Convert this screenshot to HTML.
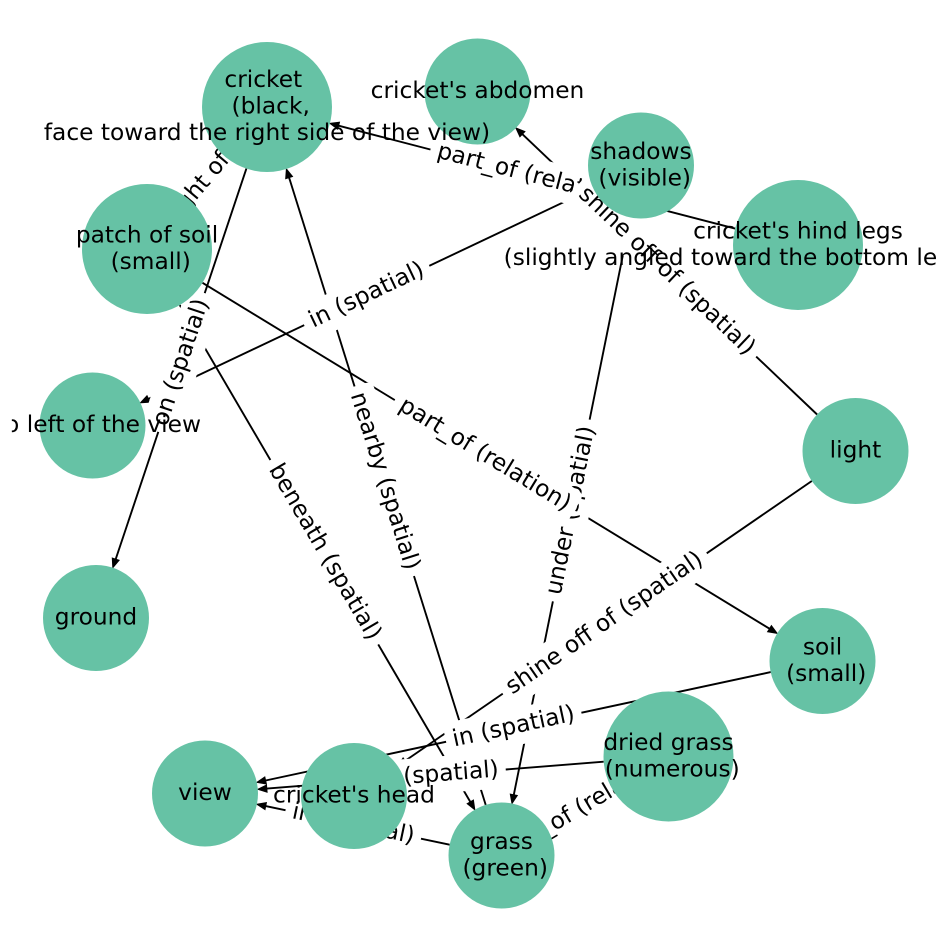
<!DOCTYPE html>
<html><head><meta charset="utf-8"><style>
html,body{margin:0;padding:0;background:#fff;}
svg{display:block;}
text{font-family:"DejaVu Sans","Liberation Sans",sans-serif;font-size:23.3px;fill:#000;white-space:pre;}
</style></head><body>
<svg width="948" height="948" viewBox="0 0 948 948" xmlns="http://www.w3.org/2000/svg">
<defs>
<clipPath id="ax"><rect x="11.85" y="11.85" width="924.3" height="924.3"/></clipPath>
</defs>
<rect width="948" height="948" fill="#fff"/>
<g stroke="#000" stroke-width="1.9" fill="none">
<path d="M735.1,228.6 L338.6,125.7"/>
<path d="M817.1,414.5 L522.4,134.2"/>
<path d="M246.4,168.6 L115.7,559.2"/>
<path d="M593.1,188.2 L148.5,398.9"/>
<path d="M485.7,804.9 L289.1,177.6"/>
<path d="M179.8,305.1 L470.3,801.9"/>
<path d="M202.5,282.8 L769.5,628.7"/>
<path d="M630.5,217.4 L513.8,794.8"/>
<path d="M811.8,481 L405.1,760.9"/>
<path d="M770.7,672.1 L265.6,780.5"/>
<path d="M603.7,761.7 L266.8,788.6"/>
<path d="M449.6,844.7 L265.7,806.1"/>
</g>
<g fill="#000" stroke="#000" stroke-width="1" stroke-linejoin="miter">
<polygon points="329.9,123.4 339.5,122.2 337.7,129.2"/>
<polygon points="515.9,128 524.9,131.6 519.9,136.8"/>
<polygon points="112.8,567.7 112.3,558.1 119.1,560.3"/>
<polygon points="140.4,402.8 147,395.7 150,402.2"/>
<polygon points="286.4,169 292.5,176.5 285.7,178.7"/>
<polygon points="474.8,809.7 467.2,803.7 473.4,800.1"/>
<polygon points="777.2,633.4 767.6,631.8 771.4,625.6"/>
<polygon points="512,803.6 510.3,794.1 517.3,795.5"/>
<polygon points="397.7,766 403.1,757.9 407.1,763.9"/>
<polygon points="256.8,782.4 264.8,777 266.4,784"/>
<polygon points="257.8,789.3 266.5,785 267.1,792.2"/>
<polygon points="256.9,804.3 266.4,802.6 265,809.6"/>
</g>

<!-- edge labels -->
<g clip-path="url(#ax)">
<g transform="translate(181.5,362.5) rotate(-71.5)"><rect x="-73.1" y="-18.4" width="146.2" height="36.8" rx="7" fill="#fff"/><text x="0" y="6.3" text-anchor="middle">on (spatial)</text></g>
<g transform="translate(207,178) rotate(-49.8)"><rect x="-139.1" y="-18.4" width="278.2" height="36.8" rx="7" fill="#fff"/><text x="0" y="6.3" text-anchor="middle">to the right of (spatial)</text></g>
<g transform="translate(366.75,295.5) rotate(-25.36)"><rect x="-69.2" y="-18.4" width="138.4" height="36.8" rx="7" fill="#fff"/><text x="0" y="6.3" text-anchor="middle">in (spatial)</text></g>
<g transform="translate(384.25,481.25) rotate(72.6)"><rect x="-99.35" y="-18.4" width="198.7" height="36.8" rx="7" fill="#fff"/><text x="0" y="6.3" text-anchor="middle">nearby (spatial)</text></g>
<g transform="translate(324.25,552.25) rotate(59.69)"><rect x="-106.8" y="-18.4" width="213.6" height="36.8" rx="7" fill="#fff"/><text x="0" y="6.3" text-anchor="middle">beneath (spatial)</text></g>
<g transform="translate(571.25,510.5) rotate(-78.57)"><rect x="-92.7" y="-18.4" width="185.4" height="36.8" rx="7" fill="#fff"/><text x="0" y="6.3" text-anchor="middle">under (spatial)</text></g>
<g transform="translate(484.75,455) rotate(31.37)"><rect x="-105.4" y="-18.4" width="210.8" height="36.8" rx="7" fill="#fff"/><text x="0" y="6.3" text-anchor="middle">part_of (relation)</text></g>
<g transform="translate(604.75,623.5) rotate(-34.53)"><rect x="-123.8" y="-18.4" width="247.6" height="36.8" rx="7" fill="#fff"/><text x="0" y="6.3" text-anchor="middle">shine off of (spatial)</text></g>
<g transform="translate(513.75,727.25) rotate(-12.11)"><rect x="-69.2" y="-18.4" width="138.4" height="36.8" rx="7" fill="#fff"/><text x="0" y="6.3" text-anchor="middle">in (spatial)</text></g>
<g transform="translate(436.75,775) rotate(-4.56)"><rect x="-69.2" y="-18.4" width="138.4" height="36.8" rx="7" fill="#fff"/><text x="0" y="6.3" text-anchor="middle">in (spatial)</text></g>
<g transform="translate(353.25,824.5) rotate(11.81)"><rect x="-69.2" y="-18.4" width="138.4" height="36.8" rx="7" fill="#fff"/><text x="0" y="6.3" text-anchor="middle">in (spatial)</text></g>
<g transform="translate(585,806) rotate(-30.66)"><rect x="-105.4" y="-18.4" width="210.8" height="36.8" rx="7" fill="#fff"/><text x="0" y="6.3" text-anchor="middle">part_of (relation)</text></g>
<g transform="translate(532.5,176) rotate(14.57)"><rect x="-105.4" y="-18.4" width="210.8" height="36.8" rx="7" fill="#fff"/><text x="0" y="6.3" text-anchor="middle">part_of (relation)</text></g>
<g transform="translate(666.5,271.25) rotate(43.56)"><rect x="-123.8" y="-18.4" width="247.6" height="36.8" rx="7" fill="#fff"/><text x="0" y="6.3" text-anchor="middle">shine off of (spatial)</text></g>
</g>

<!-- nodes -->
<g fill="#66c2a5">
<circle cx="267" cy="107" r="65"/>
<circle cx="477.5" cy="91.5" r="53"/>
<circle cx="641" cy="165.5" r="53"/>
<circle cx="798" cy="245" r="65"/>
<circle cx="147" cy="249" r="65"/>
<circle cx="92.5" cy="425.5" r="53"/>
<circle cx="96" cy="618" r="53"/>
<circle cx="855.5" cy="451" r="53"/>
<circle cx="822.5" cy="661" r="53"/>
<circle cx="668.5" cy="756.5" r="65"/>
<circle cx="205" cy="793.5" r="53"/>
<circle cx="354" cy="796" r="53"/>
<circle cx="501.5" cy="855.5" r="53"/>
</g>

<!-- node labels -->
<g text-anchor="middle" clip-path="url(#ax)">
<text x="267" y="87">cricket </text>
<text x="267" y="113.5"> (black,</text>
<text x="267" y="140">face toward the right side of the view)</text>
<text x="477.5" y="98">cricket's abdomen</text>
<text x="641" y="158.75">shadows</text>
<text x="641" y="185.25"> (visible)</text>
<text x="798" y="238.25">cricket's hind legs</text>
<text x="798" y="264.75"> (slightly angled toward the bottom left of the view)</text>
<text x="147" y="242.25">patch of soil</text>
<text x="147" y="268.75"> (small)</text>
<text x="96" y="624.5">ground</text>
<text x="855.5" y="457.5">light</text>
<text x="822.5" y="654.25">soil</text>
<text x="822.5" y="680.75"> (small)</text>
<text x="668.5" y="749.75">dried grass</text>
<text x="668.5" y="776.25"> (numerous)</text>
<text x="205" y="800">view</text>
<text x="354" y="802.5">cricket's head</text>
<text x="501.5" y="848.75">grass</text>
<text x="501.5" y="875.25"> (green)</text>
</g>
<g clip-path="url(#ax)">
<text x="201" y="432" text-anchor="end">to left of the view</text>
</g>
</svg>
</body></html>
